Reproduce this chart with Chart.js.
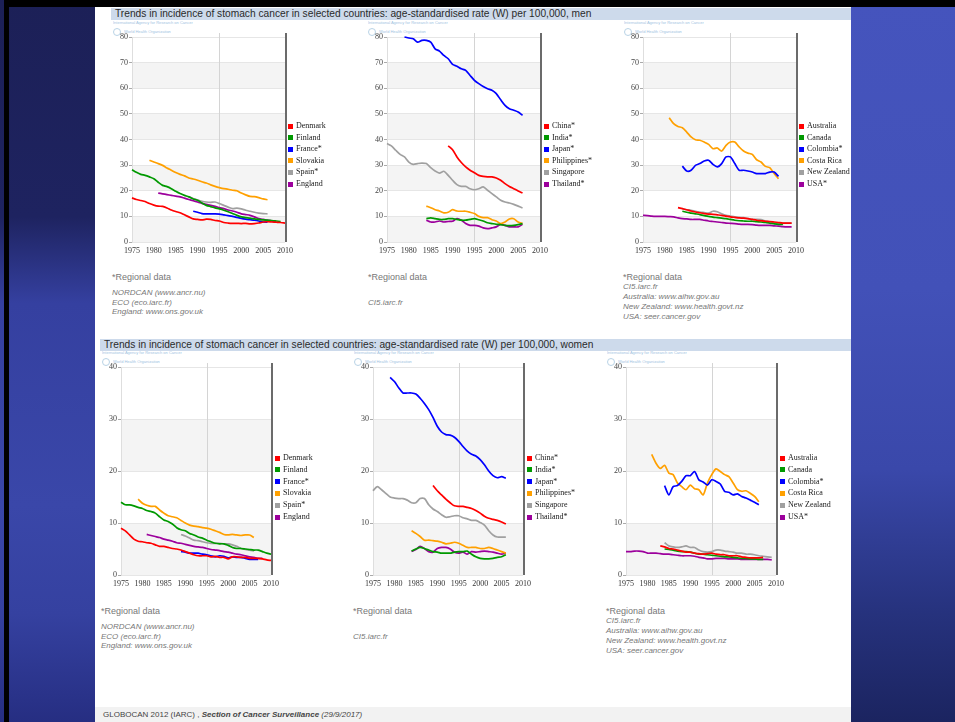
<!DOCTYPE html>
<html>
<head>
<meta charset="utf-8">
<script src="https://cdn.jsdelivr.net/npm/chart.js@4.4.1/dist/chart.umd.min.js"></script>
<style>
  html, body { margin: 0; padding: 0; }
  body { width: 955px; height: 722px; position: relative; overflow: hidden; background: #1d2159; font-family: "Liberation Sans", Arial, sans-serif; }
  .bgL { position: absolute; left: 0; top: 0; width: 95px; height: 722px;
         background: linear-gradient(to bottom, #1c2057 0%, #1e2360 30%, #3540a0 42%, #3a47a9 70%, #3541a0 85%, #262e82 100%); }
  .bgR { position: absolute; left: 851px; top: 0; width: 104px; height: 722px;
         background: linear-gradient(to bottom, #4554bd 0%, #4251b8 40%, #3a48aa 65%, #26327d 85%, #1b2460 100%); }
  .edge { position: absolute; left: 4px; top: 0; width: 5px; height: 722px; background: #000; }
  .topband { position: absolute; left: 4px; top: 0; width: 951px; height: 7px; background: #000; }
  .panel { position: absolute; left: 95px; top: 7px; width: 756px; height: 715px; background: #fff; }
  .tbar { position: absolute; background: #cddaeb; height: 12px; line-height: 12px; font-size: 10.2px; color: #2a2a2a; white-space: nowrap; }
  .tbar span { position: absolute; top: 0; }
  .iarc { position: absolute; font-size: 8px; color: #9fc3df; white-space: nowrap; transform: scale(0.5); transform-origin: 0 0; }
  .who { position: absolute; width: 6px; height: 6px; border: 1px solid #b9d3e6; border-radius: 50%; }
  canvas { position: absolute; }
  .leg { position: absolute; font-family: "Liberation Serif", serif; font-size: 8px; color: #1a1a1a; white-space: nowrap; }
  .leg div { position: absolute; height: 10px; line-height: 10px; }
  .leg i { position: absolute; width: 5px; height: 5px; top: 2.5px; }
  .note { position: absolute; font-size: 9px; color: #777; white-space: nowrap; }
  .src { position: absolute; font-size: 8px; font-style: italic; color: #777; white-space: nowrap; }
  .foot { position: absolute; left: 95px; top: 707px; width: 756px; height: 15px; background: #f2f2f2; }
  .foot span { position: absolute; left: 8px; top: 3px; font-size: 8px; color: #444; white-space: nowrap; }
</style>
</head>
<body>
<div class="bgL"></div>
<div class="bgR"></div>
<div class="edge"></div>
<div class="topband"></div>
<div class="panel"></div>

<div class="tbar" style="left:111px; top:8px; width:740px;"><span style="left:4px;">Trends in incidence of stomach cancer in selected countries: age-standardised rate (W) per 100,000, men</span></div>
<div class="tbar" style="left:100px; top:339px; width:751px;"><span style="left:4px;">Trends in incidence of stomach cancer in selected countries: age-standardised rate (W) per 100,000, women</span></div>

<div id="deco"></div>

<canvas id="c1" width="190" height="229" style="left:107px; top:29px;"></canvas>
<canvas id="c2" width="190" height="229" style="left:362px; top:29px;"></canvas>
<canvas id="c3" width="190" height="229" style="left:618px; top:29px;"></canvas>
<canvas id="c4" width="187" height="232" style="left:96px; top:359px;"></canvas>
<canvas id="c5" width="187" height="232" style="left:348px; top:359px;"></canvas>
<canvas id="c6" width="187" height="232" style="left:601px; top:359px;"></canvas>

<div id="legends"></div>
<div id="notes"></div>

<div class="foot"><span>GLOBOCAN 2012 (IARC) , <b><i>Section of Cancer Surveillance</i></b> <i>(29/9/2017)</i></span></div>

<script>
// ---- axis ticks ----
const yearTicks = [1975, 1980, 1985, 1990, 1995, 2000, 2005, 2010];
const menMax = 80;
const womenMax = 40;
const midYearLine = 1995;

// ---- series names and colours ----
const europeNames = ['Denmark', 'Finland', 'France*', 'Slovakia', 'Spain*', 'England'];
const asiaNames = ['China*', 'India*', 'Japan*', 'Philippines*', 'Singapore', 'Thailand*'];
const americasNames = ['Australia', 'Canada', 'Colombia*', 'Costa Rica', 'New Zealand', 'USA*'];
const seriesColors = ['#ff0000', '#009900', '#0000ff', '#ffa000', '#a0a0a0', '#9c009c'];

// ---- first year of each series ----
const europeStartMen = [1975, 1975, 1989, 1979, 1988, 1981];
const asiaStartMen = [1989, 1984, 1979, 1984, 1975, 1984];
const americasStartMen = [1983, 1984, 1984, 1981, 1984, 1975];
const europeStartWomen = [1975, 1975, 1989, 1979, 1989, 1981];
const asiaStartWomen = [1989, 1984, 1979, 1984, 1975, 1984];
const americasStartWomen = [1983, 1984, 1984, 1981, 1984, 1975];

// ---- men, Europe ----
const denmarkMen = [17.2,16.6,16.2,15.8,15.0,14.4,14.0,13.9,13.3,12.5,11.9,11.4,10.6,9.8,9.0,8.8,8.6,8.9,8.8,8.4,8.2,7.6,7.4,7.3,7.3,7.2,7.3,7.1,7.2,7.4,7.8,7.9,7.8,7.7,7.6,7.4];
const finlandMen = [28.2,27.2,26.4,26.0,25.4,24.7,23.3,22.1,21.6,20.8,19.8,18.9,18.2,17.6,16.8,16.3,15.2,14.3,13.8,13.3,12.9,12.4,11.8,11.1,10.4,9.8,9.5,9.3,9.0,8.8,8.6,8.5,8.4,8.2,8.0];
const franceMen = [12.0,11.6,11.1,11.0,11.0,11.0,10.9,10.6,10.3,10.0,9.6,9.2,8.9,8.7,8.5,8.2,7.8,7.7];
const slovakiaMen = [31.9,31.2,30.6,29.9,28.9,28.0,27.1,26.4,25.8,25.0,24.6,24.1,23.5,23.0,22.3,21.7,21.2,20.8,20.6,20.2,20.0,19.1,18.4,17.8,17.7,17.3,16.8,16.5];
const spainMen = [17.6,17.0,16.4,15.9,15.6,15.5,15.6,15.0,14.3,13.6,13.0,13.2,12.9,12.4,12.0,11.6,11.3,11.1,11.0];
const englandMen = [19.1,18.8,18.5,18.2,17.9,17.6,17.1,16.6,16.1,15.6,15.1,14.7,14.3,13.9,13.4,13.0,12.5,12.1,11.6,11.0,10.7,10.4,9.8,9.1,8.8,8.5,8.2,8.0];

// ---- men, Asia ----
const chinaMen = [37.5,36.0,33.2,31.0,29.3,28.0,27.0,26.0,25.6,25.4,25.4,25.0,24.1,22.8,21.7,20.8,19.9,19.1];
const indiaMen = [9.1,9.4,9.1,8.8,8.8,9.1,9.1,8.8,8.5,8.5,8.8,9.1,8.7,8.2,7.5,7.2,6.9,6.8,6.5,6.4,6.5,6.8,7.2];
const japanMen = [80.0,79.6,79.3,78.0,78.7,78.7,78.0,75.4,74.5,72.8,71.5,69.3,68.6,67.6,67.0,65.0,63.1,61.8,60.7,59.8,59.2,57.9,55.5,53.3,52.0,51.4,50.7,49.4];
const philippinesMen = [14.0,13.4,12.6,12.1,11.4,11.6,12.6,12.1,12.0,12.0,11.6,11.1,10.0,9.5,9.5,8.7,8.2,7.2,7.8,9.0,9.1,7.8,7.2];
const singaporeMen = [38.4,37.5,35.8,34.2,33.2,31.2,30.3,30.6,30.8,30.6,29.0,27.7,26.9,27.6,26.0,24.1,22.4,21.7,21.7,20.8,20.4,20.8,21.5,20.2,18.9,17.6,16.3,15.6,15.2,14.7,14.0,13.3];
const thailandMen = [8.5,7.8,7.8,8.2,7.8,8.0,8.1,9.1,8.5,7.2,6.5,6.5,6.2,5.5,5.2,5.5,5.9,6.9,6.5,5.9,5.9,5.9,6.9];

// ---- men, Americas and Oceania ----
const australiaMen = [13.4,13.0,12.6,12.1,11.7,11.4,11.1,10.9,10.8,10.6,10.4,10.1,9.8,9.6,9.4,9.3,9.1,8.8,8.5,8.3,8.1,8.0,7.8,7.6,7.4,7.4,7.4];
const canadaMen = [12.0,11.6,11.3,11.0,10.7,10.3,10.0,9.7,9.5,9.3,9.1,8.8,8.5,8.3,8.2,8.1,8.1,7.9,7.8,7.6,7.4,7.1,6.9,6.9];
const colombiaMen = [29.6,27.7,28.0,29.9,30.6,31.6,31.9,30.3,29.3,30.6,33.2,33.2,30.6,28.0,28.0,27.7,27.3,26.7,26.7,26.7,27.3,27.3,25.6];
const costaRicaMen = [48.5,46.2,45.1,44.6,42.9,41.0,39.9,39.7,39.0,38.1,36.4,36.7,35.5,37.7,39.0,39.0,37.1,35.5,34.7,34.2,32.1,31.2,29.5,29.0,26.7,24.7];
const newZealandMen = [13.0,12.6,12.4,12.0,11.7,11.5,11.3,12.0,11.8,11.0,10.4,10.1,9.8,9.6,9.5,9.1,8.8,8.8,8.7,8.2,7.8,7.5,7.2,7.3,7.4,7.4];
const usaMen = [10.4,10.3,10.1,10.0,10.0,10.0,9.9,9.8,9.4,9.1,9.0,8.8,8.8,8.8,8.5,8.2,8.0,7.8,7.6,7.4,7.3,7.2,7.0,6.9,6.9,6.8,6.6,6.5,6.5,6.5,6.3,6.2,6.0,5.9,5.9];

// ---- women, Europe ----
const denmarkWomen = [9.0,8.5,7.7,6.9,6.5,6.4,6.2,6.1,5.8,5.5,5.5,5.3,5.1,5.0,4.8,4.5,4.2,3.9,3.7,3.7,3.7,3.5,3.6,3.4,3.4,3.1,3.5,3.5,3.4,3.4,3.2,3.2,3.2,3.1,2.9,2.8];
const finlandWomen = [14.0,13.5,13.5,13.3,13.0,12.8,12.4,12.2,11.9,11.2,10.6,10.3,9.8,9.1,8.7,8.5,8.0,7.7,7.3,7.1,6.7,6.4,6.1,6.0,6.0,5.7,5.3,5.1,5.1,5.0,4.9,4.8,4.8,4.5,4.2,4.0];
const franceWomen = [4.5,4.4,4.2,4.2,4.2,4.0,3.9,3.7,3.5,3.7,3.6,3.3,3.5,3.4,3.4,3.2,3.0,3.0,3.0];
const slovakiaWomen = [14.6,13.8,13.4,13.2,13.2,12.5,11.9,11.4,11.2,11.0,10.5,10.0,9.6,9.4,9.3,9.1,9.0,8.8,8.5,8.2,7.8,7.7,7.8,7.7,7.6,7.7,7.7,7.2];
const spainWomen = [7.8,7.5,7.1,6.7,6.6,6.4,6.2,6.1,6.1,6.1,6.0,6.0,5.8,5.5,5.1,4.9,4.8,4.6];
const englandWomen = [7.8,7.6,7.4,7.2,6.9,6.7,6.5,6.2,6.1,5.9,5.7,5.5,5.4,5.3,5.1,4.9,4.8,4.7,4.5,4.4,4.2,4.0,3.9,3.7,3.5,3.4,3.2,3.2];

// ---- women, Asia ----
const chinaWomen = [17.2,16.2,15.4,14.6,13.9,13.3,13.2,13.2,13.0,12.8,12.4,11.9,11.3,10.9,10.7,10.5,10.2,9.8];
const indiaWomen = [4.6,5.0,5.3,5.1,4.8,4.5,4.4,4.2,4.2,4.2,4.4,4.5,4.5,4.6,4.0,3.5,3.2,3.1,3.1,3.2,3.4,3.5,3.9];
const japanWomen = [38.0,37.2,36.0,35.0,35.0,35.0,34.8,34.0,33.0,31.8,30.3,28.6,27.5,27.0,26.9,26.5,25.7,24.7,23.8,23.2,22.9,22.2,21.2,20.0,19.1,18.7,18.9,18.6];
const philippinesWomen = [8.5,8.0,7.4,6.7,6.7,6.6,6.5,6.3,6.0,6.1,6.3,6.1,5.7,5.3,5.3,5.3,5.1,5.1,5.3,5.1,4.8,4.5,4.2];
const singaporeWomen = [16.2,17.0,16.4,15.7,15.0,14.8,14.7,14.7,14.4,13.9,13.9,14.7,14.7,13.5,12.7,12.2,11.6,11.1,11.2,11.4,11.4,11.0,10.8,10.5,10.5,10.1,9.6,8.5,7.7,7.3,7.3,7.3];
const thailandWomen = [4.5,4.9,5.5,5.1,4.5,4.4,5.1,5.3,5.3,5.0,4.4,4.2,4.4,4.0,4.5,4.4,4.5,4.6,4.5,4.4,4.2,4.0,4.2];

// ---- women, Americas and Oceania ----
const australiaWomen = [5.6,5.4,5.1,5.0,4.8,4.6,4.4,4.4,4.2,4.1,4.0,4.1,4.2,4.0,3.9,3.9,3.7,3.7,3.7,3.5,3.4,3.3,3.3,3.3,3.4];
const canadaWomen = [5.0,4.9,4.8,4.6,4.5,4.5,4.4,4.2,4.0,4.0,3.9,3.8,3.7,3.6,3.5,3.5,3.4,3.3,3.2,3.2,3.1,3.1,3.0,3.0];
const colombiaWomen = [17.2,15.4,17.0,17.2,18.0,19.1,19.1,19.9,18.3,17.9,17.3,18.3,18.0,17.5,16.1,15.9,15.4,15.6,15.1,14.8,14.4,14.0,13.5];
const costaRicaWomen = [23.2,21.5,20.5,21.1,19.6,19.3,17.7,17.0,16.4,17.3,16.6,16.4,15.4,17.7,19.3,20.4,19.9,19.3,18.9,17.7,16.4,16.1,16.2,15.7,15.1,14.1];
const newZealandWomen = [6.2,5.6,5.4,5.3,5.4,5.6,5.3,5.3,4.8,4.5,4.4,4.5,4.8,4.8,4.6,4.5,4.4,4.2,4.2,4.0,4.0,3.9,3.7,3.6,3.5,3.4];
const usaWomen = [4.5,4.5,4.6,4.6,4.5,4.2,4.2,4.2,4.1,4.0,4.0,3.9,3.8,3.7,3.7,3.7,3.6,3.4,3.3,3.1,3.1,3.2,3.2,3.2,3.1,3.1,3.1,3.0,3.0,3.0,3.0,3.0,3.0,3.0,2.9];

// ---- source notes under each chart ----
const notesEurope = ['NORDCAN (www.ancr.nu)', 'ECO (eco.iarc.fr)', 'England: www.ons.gov.uk'];
const notesAsia = ['CI5.iarc.fr'];
const notesAmericas = ['CI5.iarc.fr', 'Australia: www.aihw.gov.au', 'New Zealand: www.health.govt.nz', 'USA: seer.cancer.gov'];

const panels = [
  { id: 'c1', max: menMax, names: europeNames, starts: europeStartMen,
    series: [denmarkMen, finlandMen, franceMen, slovakiaMen, spainMen, englandMen],
    legend: [288, 126, 11.6], notes: notesEurope, noteAt: [112, 272, 'spread'] },
  { id: 'c2', max: menMax, names: asiaNames, starts: asiaStartMen,
    series: [chinaMen, indiaMen, japanMen, philippinesMen, singaporeMen, thailandMen],
    legend: [544, 126, 11.6], notes: notesAsia, noteAt: [368, 272, 'spread'] },
  { id: 'c3', max: menMax, names: americasNames, starts: americasStartMen,
    series: [australiaMen, canadaMen, colombiaMen, costaRicaMen, newZealandMen, usaMen],
    legend: [799, 126, 11.6], notes: notesAmericas, noteAt: [623, 272, 'tight'] },
  { id: 'c4', max: womenMax, names: europeNames, starts: europeStartWomen,
    series: [denmarkWomen, finlandWomen, franceWomen, slovakiaWomen, spainWomen, englandWomen],
    legend: [275, 458, 11.8], notes: notesEurope, noteAt: [101, 606, 'spread'] },
  { id: 'c5', max: womenMax, names: asiaNames, starts: asiaStartWomen,
    series: [chinaWomen, indiaWomen, japanWomen, philippinesWomen, singaporeWomen, thailandWomen],
    legend: [527, 458, 11.8], notes: notesAsia, noteAt: [353, 606, 'spread'] },
  { id: 'c6', max: womenMax, names: americasNames, starts: americasStartWomen,
    series: [australiaWomen, canadaWomen, colombiaWomen, costaRicaWomen, newZealandWomen, usaWomen],
    legend: [780, 458, 11.8], notes: notesAmericas, noteAt: [606, 606, 'tight'] }
];

// Alternate grey bands every other 10 units, plus the 1995 guide and the heavy right-hand frame.
const framePlugin = {
  id: 'frame',
  beforeDraw(chart) {
    const { ctx, chartArea: a, scales: { y } } = chart;
    ctx.save();
    ctx.fillStyle = '#f4f4f4';
    for (let v = 0; v < y.max; v += 20) {
      const top = y.getPixelForValue(v + 10), bot = y.getPixelForValue(v);
      ctx.fillRect(a.left, top, a.right - a.left, bot - top);
    }
    ctx.restore();
  },
  beforeDatasetsDraw(chart) {
    const { ctx, chartArea: a, scales: { x } } = chart;
    ctx.save();
    const xm = Math.round(x.getPixelForValue(midYearLine)) + 0.5;
    ctx.strokeStyle = '#d4d4d4';
    ctx.lineWidth = 1;
    ctx.beginPath(); ctx.moveTo(xm, a.top - 4); ctx.lineTo(xm, a.bottom); ctx.stroke();
    const xr = x.getPixelForValue(x.max) + 1;
    ctx.strokeStyle = '#6b6b6b';
    ctx.lineWidth = 2;
    ctx.beginPath(); ctx.moveTo(xr, a.top - 4); ctx.lineTo(xr, a.bottom); ctx.stroke();
    ctx.restore();
  }
};

const tickFont = { family: 'Liberation Serif', size: 8 };

function drawPanel(p) {
  const datasets = p.series.map((vals, i) => ({
    label: p.names[i],
    data: vals.map((v, k) => ({ x: p.starts[i] + k, y: v })),
    borderColor: seriesColors[i],
    backgroundColor: seriesColors[i],
    borderWidth: 1.7,
    pointRadius: 0,
    tension: 0.25,
    clip: 4
  }));
  new Chart(document.getElementById(p.id), {
    type: 'line',
    data: { datasets },
    options: {
      responsive: false,
      animation: false,
      events: [],
      layout: { padding: { top: 8, right: 12, left: 0, bottom: 0 } },
      plugins: { legend: { display: false }, tooltip: { enabled: false } },
      scales: {
        x: {
          type: 'linear', min: yearTicks[0], max: yearTicks[yearTicks.length - 1],
          afterBuildTicks: s => { s.ticks = yearTicks.map(v => ({ value: v })); },
          afterFit: s => { s.height = 16; },
          grid: { display: false, drawTicks: false },
          border: { display: false },
          ticks: { font: tickFont, color: '#333', padding: 4, maxRotation: 0, autoSkip: false, callback: v => String(v) }
        },
        y: {
          min: 0, max: p.max,
          afterFit: s => { s.width = 25; },
          ticks: { stepSize: 10, font: tickFont, color: '#444', padding: 1 },
          grid: { color: '#e6e6e6', tickLength: 3, tickColor: '#aaa' },
          border: { color: '#dedede' }
        }
      }
    },
    plugins: [framePlugin]
  });

  // legend
  const leg = document.createElement('div');
  leg.className = 'leg';
  const [lx, ly, step] = p.legend;
  p.names.forEach((n, i) => {
    const row = document.createElement('div');
    row.style.left = lx + 'px';
    row.style.top = (ly + i * step - 5) + 'px';
    row.innerHTML = '<i style="left:0;background:' + seriesColors[i] + '"></i><span style="position:absolute;left:8px;">' + n + '</span>';
    leg.appendChild(row);
  });
  document.getElementById('legends').appendChild(leg);

  // notes
  const [nx, ny, mode] = p.noteAt;
  const holder = document.getElementById('notes');
  const head = document.createElement('div');
  head.className = 'note';
  head.style.left = nx + 'px';
  head.style.top = ny + 'px';
  head.textContent = '*Regional data';
  holder.appendChild(head);
  p.notes.forEach((t, i) => {
    const d = document.createElement('div');
    d.className = 'src';
    d.style.left = nx + 'px';
    let top;
    if (mode === 'tight') top = ny + 10 + i * 10;
    else top = (p.notes.length === 1 ? ny + 26 : ny + 16 + i * 9.5);
    d.style.top = top + 'px';
    d.textContent = t;
    holder.appendChild(d);
  });

  // agency caption above the chart
  const cv = document.getElementById(p.id);
  const cx = parseFloat(cv.style.left) + 6, cy = parseFloat(cv.style.top);
  const deco = document.getElementById('deco');
  const cap = document.createElement('div');
  cap.className = 'iarc';
  cap.style.left = cx + 'px';
  cap.style.top = (cy - 9) + 'px';
  cap.textContent = 'International Agency for Research on Cancer';
  deco.appendChild(cap);
  const logo = document.createElement('div');
  logo.className = 'who';
  logo.style.left = cx + 'px';
  logo.style.top = (cy - 1) + 'px';
  deco.appendChild(logo);
  const who = document.createElement('div');
  who.className = 'iarc';
  who.style.left = (cx + 11) + 'px';
  who.style.top = (cy + 0) + 'px';
  who.textContent = 'World Health Organization';
  deco.appendChild(who);
}

panels.forEach(drawPanel);
</script>
</body>
</html>
